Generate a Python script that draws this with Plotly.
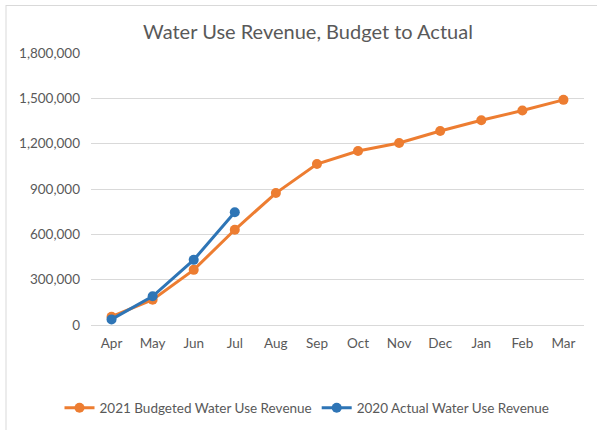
import plotly.graph_objects as go

# months of the fiscal year
months = ['Apr', 'May', 'Jun', 'Jul', 'Aug', 'Sep', 'Oct', 'Nov', 'Dec', 'Jan', 'Feb', 'Mar']

# cumulative revenue
budget_2021 = [55000, 167000, 365000, 630000, 873000, 1065000, 1151000, 1204000,
               1284000, 1355000, 1419000, 1490000]
actual_2020 = [37000, 190000, 431000, 746000]

y_ticks = [0, 300000, 600000, 900000, 1200000, 1500000, 1800000]

fig = go.Figure()

fig.add_trace(go.Scatter(
    x=months, y=budget_2021, mode='lines+markers',
    name='2021 Budgeted Water Use Revenue',
    line=dict(color='#ED7D31', width=3),
    marker=dict(color='#ED7D31', size=10)))

fig.add_trace(go.Scatter(
    x=months[:len(actual_2020)], y=actual_2020, mode='lines+markers',
    name='2020 Actual Water Use Revenue',
    line=dict(color='#2E75B6', width=3),
    marker=dict(color='#2E75B6', size=10)))

l, r, t, b = 91, 13, 53, 105
pw, ph = 597 - l - r, 430 - t - b

# frame of the chart: only left and top edges show in the original
fig.add_shape(type='line', xref='paper', yref='paper', layer='below',
              x0=(6 - l) / pw, x1=(6 - l) / pw,
              y0=(325 - 430) / ph, y1=(325 - 5) / ph,
              line=dict(color='#D9D9D9', width=1))
fig.add_shape(type='line', xref='paper', yref='paper', layer='below',
              x0=(6 - l) / pw, x1=(597 - l) / pw,
              y0=(325 - 5.5) / ph, y1=(325 - 5.5) / ph,
              line=dict(color='#D9D9D9', width=1))

fig.update_layout(
    width=597, height=430,
    margin=dict(l=l, r=r, t=t, b=b),
    paper_bgcolor='white', plot_bgcolor='white',
    font=dict(family='Lato, Open Sans, sans-serif', color='#595959', size=13),
    title=dict(text='Water Use Revenue, Budget to Actual', x=308 / 597, xref='container',
               xanchor='center', y=1 - 32 / 430, yanchor='middle',
               font=dict(size=20, color='#595959')),
    xaxis=dict(showgrid=False, showline=False, ticks='', tickfont=dict(size=13.5),
               range=[-0.5, 11.5], automargin=False, ticklabelstandoff=8),
    yaxis=dict(range=[0, 1800000], tickvals=y_ticks, tickformat=',d',
               gridcolor='#D9D9D9', gridwidth=1, zeroline=True,
               zerolinecolor='#D9D9D9', zerolinewidth=1, automargin=False,
               ticks='', ticklabelstandoff=10, tickfont=dict(size=13.5)),
    showlegend=True,
    legend=dict(orientation='h', xref='container', x=307 / 597, xanchor='center',
                yref='container', y=1 - 408 / 430, yanchor='middle',
                itemwidth=30, tracegroupgap=0,
                font=dict(size=13.5, color='#595959')),
)

fig.write_html("out.html", config={'displayModeBar': False},
               post_script="document.body.style.margin='0';")
